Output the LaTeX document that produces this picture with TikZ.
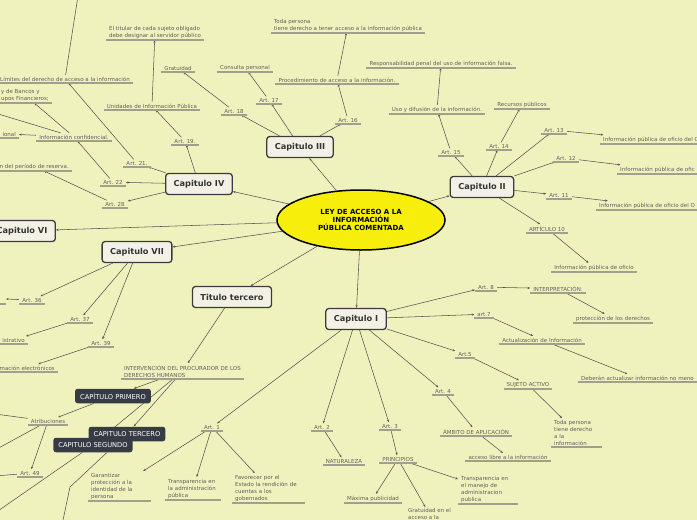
\documentclass[tikz,border=0pt]{standalone}
\usepackage{fontspec}
\setmainfont{DejaVu Sans}
\usetikzlibrary{shapes.geometric,arrows.meta,backgrounds}
\definecolor{bgc}{RGB}{240,242,190}
\definecolor{txtc}{RGB}{95,95,95}
\definecolor{ulc}{RGB}{160,160,140}
\definecolor{conc}{RGB}{85,85,85}
\definecolor{boxf}{RGB}{243,241,229}
\definecolor{boxd}{RGB}{60,60,60}
\definecolor{darkf}{RGB}{55,59,69}
\definecolor{yel}{RGB}{247,238,12}
\begin{document}
\begin{tikzpicture}[x=1pt,y=-1pt,
  topic/.style={font=\fontsize{5.5}{7}\selectfont, text=txtc, inner xsep=3pt, inner ysep=1.6pt, align=left, anchor=south},
  chap/.style={draw=boxd, line width=1.3pt, fill=boxf, rounded corners=3pt, font=\bfseries\fontsize{8.2}{10}\selectfont, text=black!80, minimum height=21pt, inner xsep=8pt},
  darkbox/.style={fill=darkf, rounded corners=2.5pt, text=white, font=\fontsize{6.7}{8}\selectfont, minimum height=14.5pt, inner xsep=5pt, inner ysep=0pt},
  conn/.style={draw=conc, line width=0.55pt, -{Stealth[length=2.6pt,width=2.2pt]}},
  plainconn/.style={draw=conc, line width=0.55pt},
  ulstyle/.style={draw=ulc, line width=1.2pt}]
\useasboundingbox (0,0) rectangle (697,520);
\clip (0,0) rectangle (697,520);

% central
\node[ellipse, draw=black, line width=1.5pt, fill=yel, minimum width=168pt, minimum height=60pt, inner sep=0pt, align=center, font=\bfseries\fontsize{7}{8}\selectfont] (center) at (361,220) {LEY DE ACCESO A LA\\INFORMACIÓN\\PÚBLICA COMENTADA};

% chapters
\node[chap] (cap3) at (300,147) {Capitulo III};
\node[chap] (cap2) at (482,187) {Capitulo II};
\node[chap] (cap4) at (199,184) {Capitulo IV};
\node[chap] (cap6) at (22,231) {Capitulo VI};
\node[chap] (cap7) at (137,252) {Capitulo VII};
\node[chap] (titulo) at (232,297) {Titulo tercero};
\node[chap] (cap1) at (356,319) {Capitulo I};

% dark boxes
\node[darkbox] (primero) at (113,396) {CAPÍTULO PRIMERO};
\node[darkbox] (segundo) at (93,445) {CAPITULO SEGUNDO};
\node[darkbox] (tercero) at (127,434) {CAPITULO TERCERO};

% Capitulo III branch
\node[topic] (art18) at (234,115) {Art. 18};
\node[topic] (grat) at (178,72) {Gratuidad};
\node[topic] (art17) at (269,104) {Art. 17};
\node[topic] (consul) at (245,72) {Consulta personal};
\node[topic] (art16) at (348,124) {Art. 16};
\node[topic] (proced) at (337,84) {Procedimiento de acceso a la información.};
\node[topic] (toda) at (348,33) {Toda persona\\tiene derecho a tener acceso a la información pública};

% Capitulo IV branch
\node[topic] (art19) at (185,145) {Art. 19.};
\node[topic] (unidades) at (152,110) {Unidades de Información Pública};
\node[topic] (titular) at (155,40) {El titular de cada sujeto obligado\\debe designar al servidor público};
\node[topic] (art21) at (137,167) {Art. 21.};
\node[topic] (limites) at (65,83) {Límites del derecho de acceso a la información};
\node[topic] (art22) at (113,186) {Art. 22};
\node[topic] (infconf) at (74,141) {Información confidencial.};
\node[topic, anchor=south east] (bancos) at (52,103) {y de Bancos y\\upos Financieros;};
\node[topic, anchor=south east] (ional) at (19,138) {ional};
\node[topic] (art28) at (115,208) {Art. 28};
\node[topic, anchor=south east] (reserva) at (72,171) {n del período de reserva.};

% Capitulo II branch
\node[topic] (art15) at (451,156) {Art. 15};
\node[topic] (uso) at (437,114) {Uso y difusión de la información.};
\node[topic] (respons) at (441,68) {Responsabilidad penal del uso de información falsa.};
\node[topic] (art14) at (499,150) {Art. 14};
\node[topic] (recursos) at (522,109) {Recursos públicos};
\node[topic] (art13) at (554,134) {Art. 13};
\node[topic, anchor=south west] (info13) at (600,144) {Información pública de oficio del O};
\node[topic] (art12) at (566,162) {Art. 12};
\node[topic, anchor=south west] (info12) at (617,174) {Información pública de ofic};
\node[topic] (art11) at (559,199) {Art. 11};
\node[topic, anchor=south west] (info11) at (596,210) {Información pública de oficio del O};
\node[topic] (art10) at (547,233) {ARTÍCULO 10};
\node[topic] (infoof) at (594,272) {Información pública de oficio};

% Capitulo VII branch
\node[topic] (art36) at (32,304) {Art. 36};
\coordinate (stub36) at (6,299);
\node[topic] (art37) at (80,323) {Art. 37};
\node[topic, anchor=south east] (strativo) at (28,344) {istrativo};
\node[topic] (art39) at (101,347) {Art. 39};
\node[topic, anchor=south east] (electr) at (58,372) {rmación electrónicos};

% Titulo tercero branch
\node[topic, anchor=south west] (interv) at (121,379) {INTERVENCIÓN DEL PROCURADOR DE LOS\\DERECHOS HUMANOS};
\node[topic] (atrib) at (48,425) {Atribuciones};
\node[topic] (art49) at (30,477) {Art. 49};

% Capitulo I branch
\node[topic] (art1) at (212,431) {Art. 1};
\node[topic, anchor=south west, text width=57pt] (garant) at (88,501) {Garantizar\\protección a la\\identidad de la\\persona};
\node[topic, anchor=south west, text width=50pt] (transp1) at (165,500) {Transparencia en\\la administración\\pública};
\node[topic, anchor=south west, text width=67pt] (favor) at (232,503) {Favorecer por el\\Estado la rendición de\\cuentas a los\\gobernados};
\node[topic] (art2) at (322,431) {Art. 2};
\node[topic] (natur) at (344,465) {NATURALEZA};
\node[topic] (art3) at (390,430) {Art. 3};
\node[topic] (princ) at (398,463) {PRINCIPIOS};
\node[topic] (maxima) at (373,503) {Máxima publicidad};
\node[topic, anchor=north west] (gratu2) at (405,507) {Gratuidad en el\\acceso a la};
\node[topic, anchor=south west, text width=54pt] (transp2) at (458,504) {Transparencia en\\el manejo de\\administracion\\publica};
\node[topic] (art4) at (443,395) {Art. 4};
\node[topic] (ambito) at (476,436) {ÁMBITO DE APLICACIÓN};
\node[topic] (acceso) at (508,461) {acceso libre a la información};
\node[topic] (art5) at (465,358) {Art.5};
\node[topic] (sujeto) at (528,389) {SUJETO ACTIVO};
\node[topic, anchor=south west, text width=45pt] (toda2) at (551,447) {Toda persona\\tiene derecho\\a la\\información};
\node[topic] (art7) at (484,318) {art.7};
\node[topic] (actual) at (542,344) {Actualización de Información};
\node[topic, anchor=south west] (deberan) at (578,382) {Deberán actualizar información no meno};
\node[topic] (art8) at (486,291) {Art. 8};
\node[topic] (interp) at (558,293) {INTERPRETACIÓN.};
\node[topic] (protec) at (613,323) {protección de los derechos};

% off-canvas coordinates
\coordinate (offtop) at (78,-4);
\coordinate (offconf) at (-5,113);
\coordinate (offat1) at (-5,414);
\coordinate (offat2) at (-5,450);
\coordinate (off49) at (-5,476);
\coordinate (offsg) at (-5,513);
\coordinate (sgbend) at (70,487);
\coordinate (sgend) at (62,525);
\coordinate (stubl) at (-5,304);
\coordinate (stubr) at (6,304);

% underlines
\foreach \n in {art18,grat,art17,consul,art16,proced,toda,art19,unidades,titular,art21,limites,art22,infconf,bancos,ional,art28,reserva,art15,uso,respons,art14,recursos,art13,info13,art12,info12,art11,info11,art10,infoof,art36,art37,strativo,art39,electr,interv,atrib,art49,art1,garant,transp1,favor,art2,natur,art3,princ,maxima,transp2,art4,ambito,acceso,art5,sujeto,toda2,art7,actual,deberan,art8,interp,protec}
  \draw[ulstyle] (\n.south west) -- (\n.south east);
\draw[ulstyle] (stubl) -- (stubr);

\begin{scope}[on background layer]
\fill[bgc] (0,0) rectangle (697,520);
% central
\draw[conn] (center) -- (cap3);
\draw[conn] (center) -- (cap2);
\draw[conn] (center) -- (cap4);
\draw[conn] (center) -- (cap6);
\draw[conn] (center) -- (cap7);
\draw[conn] (center) -- (titulo);
\draw[conn] (center) -- (cap1);
% III
\draw[conn] (cap3) -- (art18);
\draw[conn] (art18) -- (grat);
\draw[conn] (cap3) -- (art17);
\draw[conn] (art17) -- (consul);
\draw[conn] (cap3) -- (art16);
\draw[conn] (art16) -- (proced);
\draw[conn] (proced) -- (toda);
% IV
\draw[conn] (cap4) -- (art19);
\draw[conn] (art19) -- (unidades);
\draw[conn] (unidades) -- (titular);
\draw[conn] (cap4) -- (art21);
\draw[conn] (art21) -- (limites);
\draw[plainconn] (limites) -- (offtop);
\draw[conn] (cap4) -- (art22);
\draw[conn] (art22) -- (infconf);
\draw[conn] (infconf) -- (bancos);
\draw[conn] (infconf) -- (ional);
\draw[plainconn] (infconf) -- (offconf);
\draw[conn] (cap4) -- (art28);
\draw[conn] (art28) -- (reserva);
% II
\draw[conn] (cap2) -- (art15);
\draw[conn] (art15) -- (uso);
\draw[conn] (uso) -- (respons);
\draw[conn] (cap2) -- (art14);
\draw[conn] (art14) -- (recursos);
\draw[conn] (cap2) -- (art13);
\draw[conn] (art13) -- (info13);
\draw[conn] (cap2) -- (art12);
\draw[conn] (art12) -- (info12);
\draw[conn] (cap2) -- (art11);
\draw[conn] (art11) -- (info11);
\draw[conn] (cap2) -- (art10);
\draw[conn] (art10) -- (infoof);
% VII
\draw[conn] (cap7) -- (art36);
\draw[conn] (art36) -- (stub36);
\draw[conn] (cap7) -- (art37);
\draw[conn] (art37) -- (strativo);
\draw[conn] (cap7) -- (art39);
\draw[conn] (art39) -- (electr);
% Titulo tercero
\draw[conn] (titulo) -- (interv);
\draw[conn] (interv) -- (primero);
\draw[conn] (interv) -- (segundo);
\draw[conn] (interv) -- (tercero);
\draw[conn] (primero) -- (atrib);
\draw[plainconn] (atrib) -- (offat1);
\draw[plainconn] (atrib) -- (offat2);
\draw[conn] (atrib) -- (art49);
\draw[plainconn] (art49) -- (off49);
\draw[plainconn] (segundo) -- (offsg);
\draw[plainconn] ([xshift=14pt]segundo.south) -- (sgbend) -- (sgend);
% I
\draw[conn] (cap1) -- (art1);
\draw[conn] (art1) -- (garant);
\draw[conn] (art1) -- (transp1);
\draw[conn] (art1) -- (favor);
\draw[conn] (cap1) -- (art2);
\draw[conn] (art2) -- (natur);
\draw[conn] (cap1) -- (art3);
\draw[conn] (art3) -- (princ);
\draw[conn] (princ) -- (maxima);
\draw[conn] (princ) -- (gratu2);
\draw[conn] (princ) -- (transp2);
\draw[conn] (cap1) -- (art4);
\draw[conn] (art4) -- (ambito);
\draw[conn] (ambito) -- (acceso);
\draw[conn] (cap1) -- (art5);
\draw[conn] (art5) -- (sujeto);
\draw[conn] (sujeto) -- (toda2);
\draw[conn] (cap1) -- (art7);
\draw[conn] (art7) -- (actual);
\draw[conn] (actual) -- (deberan);
\draw[conn] (cap1) -- (art8);
\draw[conn] (art8) -- (interp);
\draw[conn] (interp) -- (protec);
\end{scope}
\end{tikzpicture}
\end{document}
